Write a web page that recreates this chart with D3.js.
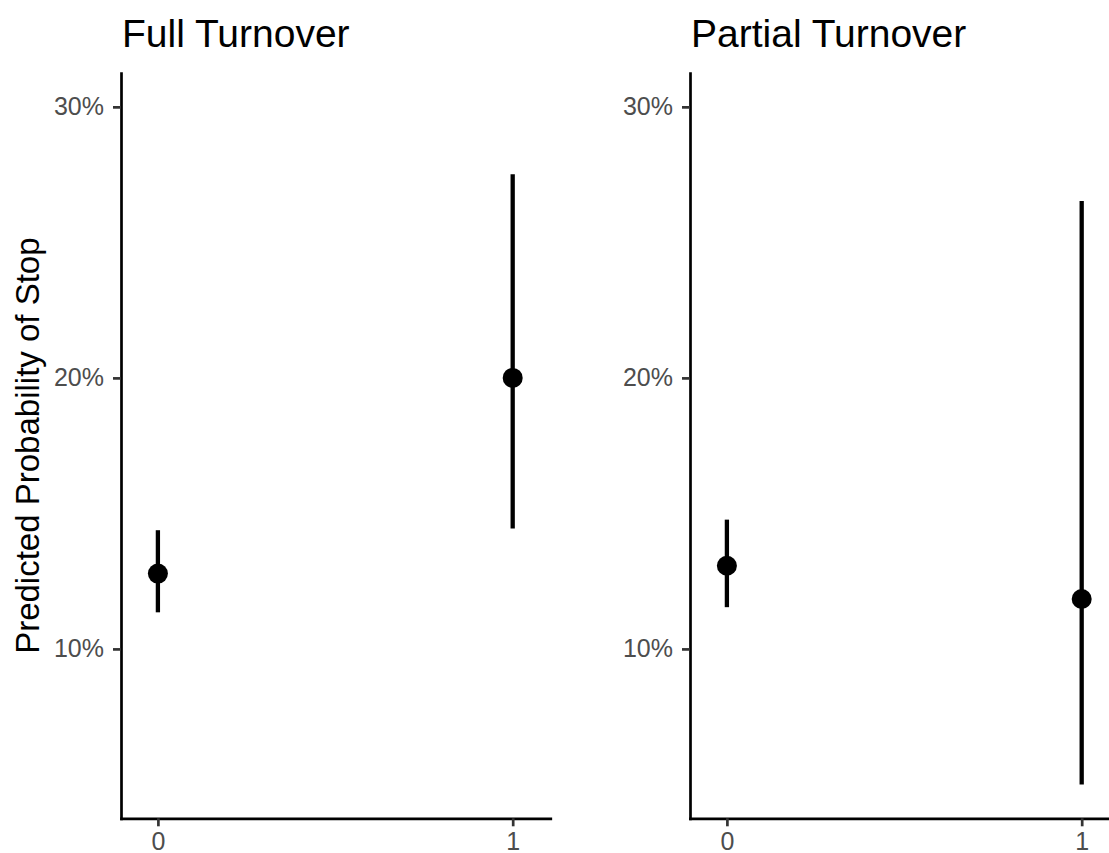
<!DOCTYPE html>
<html>
  <head>
    <title>Predicted Probability of Stop</title>
    <style>
      body {
        margin: 0px;
        overflow: hidden;
        background: #fff;
      }
      text {
        font-family: "Liberation Sans", Arial, sans-serif;
      }
    </style>
    <script src="https://d3js.org/d3.v7.min.js"></script>
  </head>
  <body>

    <svg width="1109" height="853"></svg>

    <script>
      // values (percent)
      const panels = ['Full Turnover', 'Partial Turnover'];
      const groups = [0, 1];
      const estimate = [[12.78, 20.0], [13.07, 11.84]];
      const lower = [[11.35, 14.44], [11.54, 5.0]];
      const upper = [[14.38, 27.51], [14.77, 26.53]];
      const yTicks = [10, 20, 30];
      const xTicks = [0, 1];

      const svg = d3.select('svg');

      const plotTop = 73, plotBottom = 818.3;
      const panelLeft = [121, 690];
      const panelWidth = 429.3;

      const yScale = d3.scaleLinear()
        .domain([3.75, 31.25])
        .range([plotBottom, plotTop]);

      panels.forEach((name, p) => {
        const xScale = d3.scaleLinear()
          .domain([-0.104, 1.106])
          .range([panelLeft[p], panelLeft[p] + panelWidth]);

        const g = svg.append('g');

        // error bars
        g.selectAll('line.bar').data(groups)
          .enter().append('line')
            .attr('class', 'bar')
            .attr('x1', d => xScale(d))
            .attr('x2', d => xScale(d))
            .attr('y1', (d, i) => yScale(lower[p][i]))
            .attr('y2', (d, i) => yScale(upper[p][i]))
            .attr('stroke', '#000')
            .attr('stroke-width', 4.3);

        g.selectAll('circle').data(groups)
          .enter().append('circle')
            .attr('cx', d => xScale(d))
            .attr('cy', (d, i) => yScale(estimate[p][i]))
            .attr('r', 10)
            .attr('fill', '#000');

        const yAxis = d3.axisLeft(yScale)
          .tickValues(yTicks)
          .tickFormat(d => d + '%')
          .tickSize(8)
          .tickSizeOuter(0)
          .tickPadding(9);

        const xAxis = d3.axisBottom(xScale)
          .tickValues(xTicks)
          .tickFormat(d3.format('d'))
          .tickSize(8)
          .tickSizeOuter(0)
          .tickPadding(6);

        const ya = g.append('g')
          .attr('transform', `translate(${panelLeft[p]},0)`)
          .call(yAxis);

        const xa = g.append('g')
          .attr('transform', `translate(0,${plotBottom})`)
          .call(xAxis);

        [ya, xa].forEach(a => {
          a.select('.domain').attr('stroke', '#000').attr('stroke-width', 2.7)
            .attr('stroke-linecap', 'square');
          a.selectAll('.tick line').attr('stroke', '#333').attr('stroke-width', 2.7);
          a.selectAll('.tick text').attr('fill', '#4d4d4d')
            .style('font-size', '25px');
        });

        svg.append('text')
          .attr('x', panelLeft[p] + 1)
          .attr('y', 47.3)
          .style('font-size', '39px')
          .attr('fill', '#000')
          .text(name);
      });

      svg.append('text')
        .attr('transform', `translate(39,${(plotTop + plotBottom) / 2}) rotate(-90)`)
        .attr('text-anchor', 'middle')
        .style('font-size', '33px')
        .attr('fill', '#000')
        .text('Predicted Probability of Stop');
    </script>
  </body>
</html>
